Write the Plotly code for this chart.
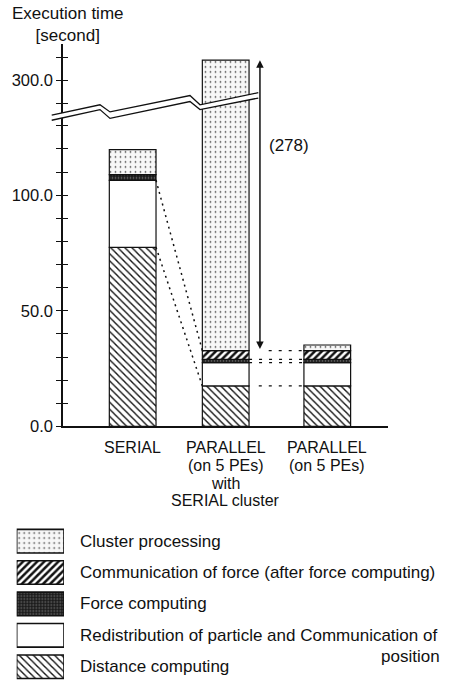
import plotly.graph_objects as go

# ---------------- data ----------------
categories = ["SERIAL",
              "PARALLEL\n(on 5 PEs)\nwith\nSERIAL cluster",
              "PARALLEL\n(on 5 PEs)"]
distance_computing = [77.4, 17.5, 17.5]
redistribution_comm_position = [29.0, 10.1, 10.1]
force_computing = [2.5, 1.4, 1.4]
communication_of_force = [0.0, 3.8, 3.8]
cluster_processing = [10.8, 276.0, 2.4]
cluster_note = "(278)"

y_tick_values = [0, 10, 20, 30, 40, 50, 60, 70, 80, 90, 100, 110, 120, 130, 290, 300, 310]
y_tick_labels = {0: "0.0", 50: "50.0", 100: "100.0", 300: "300.0"}
y_title = "Execution time<br>[second]"

legend_labels = ["Cluster processing",
                 "Communication of force (after force computing)",
                 "Force computing",
                 "Redistribution of particle and Communication of\nposition",
                 "Distance computing"]

# ---------------- layout constants ----------------
W, H = 454, 691
PL, PR, PT, PB = 63, 388, 45, 432          # plot area in pixels
bar_pos = [0.0, 0.956, 2.0]
bar_w = 0.48
x_range = [-0.716, 2.624]
BREAK_LO = 140.0        # values above this are drawn on the upper (shifted) segment
BREAK_SHIFT = 150.4
y_range = [0, 165.2]
FONT = "Liberation Sans, Arial, Helvetica, sans-serif"
INK = "#111111"

def ty(v):
    return v if v <= BREAK_LO else v - BREAK_SHIFT

xdom = [PL / W, PR / W]
ydom = [(H - PB) / H, (H - PT) / H]

def to_paper(xu, yv):
    px = xdom[0] + (xu - x_range[0]) / (x_range[1] - x_range[0]) * (xdom[1] - xdom[0])
    py = ydom[0] + (yv - y_range[0]) / (y_range[1] - y_range[0]) * (ydom[1] - ydom[0])
    return px, py

# segment styles (bottom -> top)
styles = {
    "dist": dict(color="white", pattern=dict(shape="\\", size=5, solidity=0.28, fgcolor="#111", bgcolor="white", fillmode="replace")),
    "redis": dict(color="white"),
    "force": dict(color="#222222", pattern=dict(shape=".", size=3, solidity=0.25, fgcolor="#777", bgcolor="#1a1a1a", fillmode="replace")),
    "comm": dict(color="white", pattern=dict(shape="/", size=5, solidity=0.5, fgcolor="#111", bgcolor="white", fillmode="replace")),
    "clus": dict(color="#f6f6f6", pattern=dict(shape=".", size=5, solidity=0.09, fgcolor="#333", bgcolor="#f7f7f7", fillmode="replace")),
}
series = [("dist", distance_computing), ("redis", redistribution_comm_position),
          ("force", force_computing), ("comm", communication_of_force),
          ("clus", cluster_processing)]

fig = go.Figure()
cum = [0.0] * len(bar_pos)
tops = {}
for key, vals in series:
    bases = [ty(c) for c in cum]
    new = [c + v for c, v in zip(cum, vals)]
    heights = [ty(n) - b for n, b in zip(new, bases)]
    fig.add_trace(go.Bar(x=bar_pos, y=heights, base=bases, width=bar_w,
                         marker=dict(line=dict(color=INK, width=1.2), **styles[key]),
                         showlegend=False, hoverinfo="skip"))
    tops[key] = new
    cum = new

# overlay axis carrying inward ticks (so ticks cross the axis line)
fig.add_trace(go.Scatter(x=[bar_pos[0]], y=[0], yaxis="y2", mode="markers",
                         marker=dict(opacity=0), showlegend=False, hoverinfo="skip"))

# legend swatches drawn as bars on their own small axes
legend_keys = ["clus", "comm", "force", "redis", "dist"]
for i, key in enumerate(legend_keys):
    fig.add_trace(go.Bar(x=[1], y=[i], base=[0], orientation="h", width=0.75,
                         xaxis="x2", yaxis="y3",
                         marker=dict(line=dict(color=INK, width=1.6), **styles[key]),
                         showlegend=False, hoverinfo="skip"))

tickvals = [ty(v) for v in y_tick_values]
ticktext = [y_tick_labels.get(v, "") for v in y_tick_values]

shapes = []
# broken-axis marker (white band with two zig-zag lines)
upper = [(-0.832, 134.6), (-0.336, 139.1), (-0.233, 136.0), (0.589, 143.1), (0.692, 139.1), (1.291, 144.3)]
lower = [(-0.832, 132.4), (-0.336, 137.0), (-0.233, 133.2), (0.589, 140.5), (0.692, 137.0), (1.291, 142.0)]
def path(pts, close=False):
    s = ""
    for j, (xu, yv) in enumerate(pts):
        px, py = to_paper(xu, yv)
        s += ("M" if j == 0 else "L") + f"{px:.5f},{py:.5f} "
    return s + ("Z" if close else "")
shapes.append(dict(type="path", xref="paper", yref="paper", path=path(upper + lower[::-1], True),
                   fillcolor="white", line=dict(width=0)))
for pts in (upper, lower):
    shapes.append(dict(type="path", xref="paper", yref="paper", path=path(pts),
                       line=dict(color=INK, width=1.3)))

# dotted connectors SERIAL -> PARALLEL with serial cluster
x_s = bar_pos[0] + bar_w / 2
x_m = bar_pos[1] - bar_w / 2
for y0, y1 in [(tops["redis"][0], tops["comm"][1]), (tops["dist"][0], tops["dist"][1])]:
    shapes.append(dict(type="line", xref="x", yref="y", x0=x_s, y0=ty(y0), x1=x_m, y1=ty(y1),
                       line=dict(color=INK, width=1.5, dash="2px,4px")))

# dashed level lines between the two parallel bars
x_m2 = bar_pos[1] + bar_w / 2
x_p = bar_pos[2] - bar_w / 2
arrow_x = 1.308
for key, xs in [("comm", arrow_x + 0.09), ("force", x_m2), ("redis", x_m2), ("dist", x_m2 + 0.1)]:
    yv = ty(tops[key][1])
    shapes.append(dict(type="line", xref="x", yref="y", x0=xs, y0=yv, x1=x_p, y1=yv,
                       line=dict(color=INK, width=1.2, dash="3px,7px")))

annotations = []
# double-headed arrow for the serial cluster time
annotations.append(dict(x=arrow_x, y=ty(tops["clus"][1]), ax=arrow_x, ay=ty(tops["comm"][1]),
                        xref="x", yref="y", axref="x", ayref="y", text="", showarrow=True,
                        arrowhead=2, startarrowhead=2, arrowside="end+start",
                        arrowsize=1, arrowwidth=1.5, arrowcolor=INK))
annotations.append(dict(x=arrow_x + 0.07, y=ty(tops["clus"][1]) - 37, xref="x", yref="y",
                        text=cluster_note, showarrow=False, xanchor="left",
                        font=dict(size=17, color=INK, family=FONT)))
# axis title
annotations.append(dict(x=68 / W, y=1 - 25 / H, xref="paper", yref="paper", text=y_title,
                        showarrow=False, align="center", xanchor="center", yanchor="middle",
                        font=dict(size=17, color=INK, family=FONT)))
# category labels (tight line spacing as in the original)
for xp, cat in zip(bar_pos, categories):
    for k, line in enumerate(cat.split("\n")):
        annotations.append(dict(x=xp, y=1 - (453 + 18.2 * k) / H, xref="x", yref="paper",
                                text=line, showarrow=False, xanchor="center", yanchor="middle",
                                font=dict(size=16, color=INK, family=FONT)))
# legend labels
for i, lab in enumerate(legend_labels):
    parts = lab.split("\n")
    annotations.append(dict(x=78 / W, y=i, xref="paper", yref="y3", text=parts[0],
                            showarrow=False, xanchor="left", yanchor="middle",
                            font=dict(size=17, color=INK, family=FONT)))
    if len(parts) > 1:
        annotations.append(dict(x=442 / W, y=i + 0.67, xref="paper", yref="y3", text=parts[1],
                                showarrow=False, xanchor="right", yanchor="middle",
                                font=dict(size=17, color=INK, family=FONT)))

fig.update_layout(
    width=W, height=H, margin=dict(l=0, r=0, t=0, b=0),
    paper_bgcolor="white", plot_bgcolor="white", barmode="overlay",
    font=dict(family=FONT, color=INK, size=16),
    xaxis=dict(domain=xdom, range=x_range, showline=True, linecolor=INK, linewidth=1.5,
               showticklabels=False, ticks="", showgrid=False, zeroline=False, fixedrange=True),
    yaxis=dict(domain=ydom, range=y_range, showline=True, linecolor=INK, linewidth=1.5,
               tickvals=tickvals, ticktext=ticktext, ticks="outside", ticklen=5, tickwidth=1.2,
               tickcolor=INK, tickfont=dict(size=16.5, color=INK, family=FONT),
               showgrid=False, zeroline=False, fixedrange=True),
    yaxis2=dict(domain=ydom, range=y_range, overlaying="y", anchor="x", side="left",
                tickvals=tickvals, ticks="inside", ticklen=5, tickwidth=1.2, tickcolor=INK,
                showticklabels=False, showline=False, showgrid=False, zeroline=False, fixedrange=True),
    xaxis2=dict(domain=[16.7 / W, 64 / W], range=[0, 1], anchor="y3", visible=False, fixedrange=True),
    yaxis3=dict(domain=[0, (H - 532.4) / H], range=[4.487, -0.5], anchor="x2", visible=False, fixedrange=True),
    shapes=shapes, annotations=annotations,
)

page_fix = (
    "var s=document.createElement('style');"
    "s.textContent='html,body{margin:0;padding:0;width:%dpx;height:%dpx;overflow:hidden;}"
    "body>div{height:%dpx;overflow:hidden;line-height:0;}';"
    "document.head.appendChild(s);" % (W, H, H)
)
fig.write_html("out.html", config={"displayModeBar": False}, post_script=page_fix)
